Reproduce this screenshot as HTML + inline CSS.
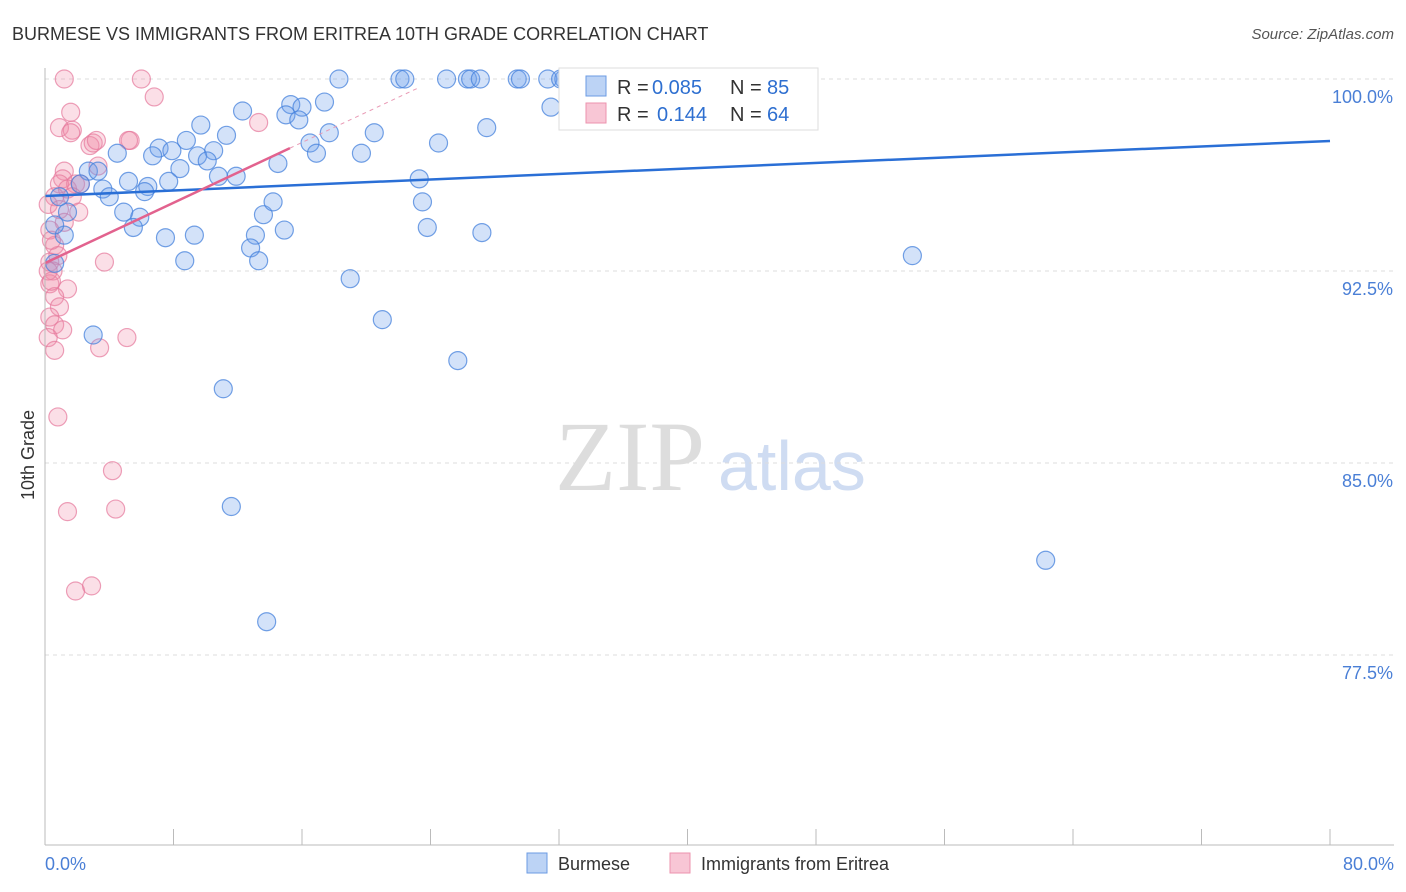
<!DOCTYPE html>
<html><head><meta charset="utf-8"><style>
body{margin:0;background:#fff;font-family:"Liberation Sans",sans-serif;}
#wrap{position:relative;width:1406px;height:892px;overflow:hidden}
</style></head><body><div id="wrap">
<svg id="svg" width="1406" height="892">
<text x="12" y="40" font-size="18" fill="#333">BURMESE VS IMMIGRANTS FROM ERITREA 10TH GRADE CORRELATION CHART</text>
<text x="1394" y="39" font-size="15" fill="#555" font-style="italic" text-anchor="end">Source: ZipAtlas.com</text>
<text x="34" y="455" font-size="18" fill="#333" transform="rotate(-90 34 455)" text-anchor="middle">10th Grade</text>
<text x="555" y="490" font-size="100" fill="#ddd" font-family="Liberation Serif,serif">ZIP</text>
<text x="718" y="490" font-size="70" fill="#cfdcf2">atlas</text>
<g id="grid"></g><g id="pts"></g><g id="lines"></g>
<line x1="45" y1="68" x2="45" y2="845" stroke="#bbb"/>
<line x1="45" y1="845" x2="1394" y2="845" stroke="#bbb"/>
<text x="45" y="870" font-size="18" fill="#4a7fd6">0.0%</text>
<text x="1394" y="870" font-size="18" fill="#4a7fd6" text-anchor="end">80.0%</text>
<rect x="559" y="68" width="259" height="62" fill="#fff" stroke="#ddd"/>
<rect x="586" y="76" width="20" height="20" fill="#bcd3f5" stroke="#6b9be3"/>
<rect x="586" y="103" width="20" height="20" fill="#f8c6d5" stroke="#ec93ae"/>
<g font-size="20">
<text x="617" y="94" fill="#333">R =</text><text x="652" y="94" fill="#2e6fd0">0.085</text>
<text x="730" y="94" fill="#333">N =</text><text x="767" y="94" fill="#2e6fd0">85</text>
</g>
<g font-size="20">
<text x="617" y="121" fill="#333">R =</text><text x="657" y="121" fill="#2e6fd0">0.144</text>
<text x="730" y="121" fill="#333">N =</text><text x="767" y="121" fill="#2e6fd0">64</text>
</g>
<rect x="527" y="853" width="20" height="20" fill="#bcd3f5" stroke="#6b9be3"/>
<text x="558" y="870" font-size="18" fill="#333">Burmese</text>
<rect x="670" y="853" width="20" height="20" fill="#f8c6d5" stroke="#ec93ae"/>
<text x="701" y="870" font-size="18" fill="#333">Immigrants from Eritrea</text>
</svg></div>
<script>
const yTicks=[100,92.5,85,77.5];
const yTickLabels=["100.0%","92.5%","85.0%","77.5%"];
const xTicks=[0,8,16,24,32,40,48,56,64,72,80];
const blueX=[18.3,22.1,22.4,25.0,26.3,26.5,27.1,29.4,29.6,31.3,32.3,37.6,31.5,12.3,15.3,17.4,16.0,15.0,15.8,9.7,8.8,11.3,7.1,7.9,6.7,10.5,9.5,10.1,4.5,17.7,16.5,16.9,19.7,20.5,24.5,27.5,14.5,8.4,11.9,10.8,7.7,5.2,6.4,6.2,3.6,4.0,2.7,3.3,2.2,0.9,1.4,4.9,5.9,5.5,13.6,14.2,23.3,23.5,23.8,27.2,7.5,9.3,13.1,14.9,12.8,13.3,8.7,1.2,0.6,0.6,54.0,19.0,21.0,3.0,25.7,11.1,11.6,13.8,62.3,46.4,32.1];
const blueY=[100,100,100,100,100,100,100,100,100,100,100,100,98.9,98.75,99.0,99.1,98.9,98.6,98.4,98.2,97.6,97.8,97.3,97.2,97.0,97.2,97.0,96.8,97.1,97.9,97.5,97.1,97.1,97.9,97.5,98.1,96.7,96.5,96.2,96.2,96.0,96.0,95.8,95.6,95.7,95.4,96.4,96.4,95.9,95.4,94.8,94.8,94.6,94.2,94.7,95.2,96.1,95.2,94.2,94.0,93.8,93.9,93.9,94.1,93.4,92.9,92.9,93.9,94.3,92.8,93.1,92.2,90.6,90.0,89.0,87.9,83.3,78.8,81.2,98.7,100];
const pinkX=[1.2,6.0,6.8,1.6,0.9,1.7,1.6,5.3,2.8,3.0,3.3,1.2,1.1,1.9,0.9,1.4,2.2,1.7,0.6,0.2,0.9,2.1,1.2,0.3,0.6,0.8,0.3,0.5,3.7,1.4,0.3,0.6,0.9,0.3,0.6,1.1,0.2,3.4,5.1,0.6,0.8,4.2,1.4,4.4,1.9,2.9,13.3,5.2,3.2,0.4,0.2,0.4];
const pinkY=[100,100,99.3,98.7,98.1,98.0,97.9,97.6,97.4,97.5,96.6,96.4,96.1,95.9,95.9,95.7,95.9,95.4,95.4,95.1,94.9,94.8,94.4,94.1,93.5,93.1,92.85,92.5,92.85,91.8,92.0,91.5,91.1,90.7,90.4,90.2,89.9,89.5,89.9,89.4,86.8,84.7,83.1,83.2,80.0,80.2,98.3,97.6,97.6,93.7,92.5,92.1];
const blueTrend=[95.43,97.58];
const pinkTrend=[92.81,97.3];
const NS='http://www.w3.org/2000/svg';
const sx=v=>45+v/80*1285, sy=v=>79+(100-v)*25.6;
function mk(tag,a,p){const e=document.createElementNS(NS,tag);for(const k in a)e.setAttribute(k,a[k]);p.appendChild(e);return e;}
const grid=document.getElementById('grid');
yTicks.forEach((t,i)=>{
 const l=mk('line',{x1:45,x2:1394,y1:sy(t),y2:sy(t),stroke:'#ddd','stroke-dasharray':'4,4'},grid);
 
 
 const tx=mk('text',{x:1393,y:sy(t)+24,'font-size':18,fill:'#4a7fd6','text-anchor':'end'},grid);
 tx.textContent=yTickLabels[i];
 
 
});
xTicks.forEach(t=>{
 const l=mk('line',{x1:sx(t),x2:sx(t),y1:829,y2:845,stroke:'#bbb'},grid);
 
 
});
const pts=document.getElementById('pts');
pinkX.forEach((x,i)=>{
 const c=mk('circle',{cx:sx(x),cy:sy(pinkY[i]),r:9,fill:'rgba(240,140,170,0.28)',stroke:'rgba(230,120,155,0.7)','stroke-width':1.2},pts);
 
 
});
blueX.forEach((x,i)=>{
 const c=mk('circle',{cx:sx(x),cy:sy(blueY[i]),r:9,fill:'rgba(110,160,235,0.3)',stroke:'rgba(70,130,220,0.75)','stroke-width':1.2},pts);
 
 
});
const lines=document.getElementById('lines');
const bl=mk('line',{x1:sx(0),y1:sy(blueTrend[0]),x2:sx(80),y2:sy(blueTrend[1]),stroke:'#2a6fd6','stroke-width':2.5},lines);


const slope=(pinkTrend[1]-pinkTrend[0])/15.25;
const pl=mk('line',{x1:sx(0),y1:sy(pinkTrend[0]),x2:sx(15.25),y2:sy(pinkTrend[1]),stroke:'#e2628e','stroke-width':2.5},lines);


const pd=mk('line',{x1:sx(15.25),y1:sy(pinkTrend[1]),x2:sx(23.3),y2:sy(pinkTrend[0]+slope*23.3),stroke:'#e99ab5','stroke-width':1,'stroke-dasharray':'4,4'},lines);


</script></body></html>
